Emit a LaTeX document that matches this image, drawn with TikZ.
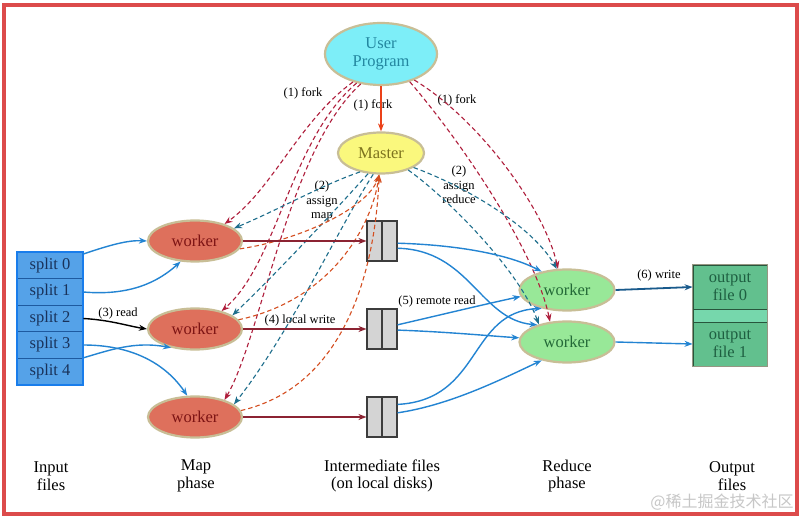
\documentclass[tikz,border=0pt]{standalone}
\usepackage{fontspec}
\setmainfont{Liberation Serif}
\newfontfamily\cjkfont{Noto Sans CJK SC}
\usetikzlibrary{shapes.geometric,arrows.meta}
\definecolor{framered}{RGB}{220,75,75}
\definecolor{rim}{RGB}{200,190,150}
\definecolor{upfill}{RGB}{125,238,248}
\definecolor{uptext}{RGB}{35,135,160}
\definecolor{msfill}{RGB}{250,248,125}
\definecolor{mstext}{RGB}{125,115,30}
\definecolor{mapfill}{RGB}{222,112,92}
\definecolor{maptext}{RGB}{125,20,20}
\definecolor{redfill}{RGB}{152,232,152}
\definecolor{redtext}{RGB}{35,105,55}
\definecolor{filefill}{RGB}{212,212,212}
\definecolor{filedraw}{RGB}{60,60,60}
\definecolor{splitfill}{RGB}{85,162,232}
\definecolor{splitline}{RGB}{30,90,160}
\definecolor{splitrim}{RGB}{25,125,235}
\definecolor{splittext}{RGB}{25,50,90}
\definecolor{outfill}{RGB}{98,192,142}
\definecolor{outstrip}{RGB}{118,215,172}
\definecolor{outline}{RGB}{40,85,60}
\definecolor{outtext}{RGB}{30,95,65}
\definecolor{outrim}{RGB}{150,150,130}
\definecolor{forkc}{RGB}{175,30,60}
\definecolor{assignc}{RGB}{30,110,140}
\definecolor{reportc}{RGB}{212,78,32}
\definecolor{writec}{RGB}{140,35,50}
\definecolor{bluec}{RGB}{35,132,210}
\definecolor{mainc}{RGB}{235,65,25}
\definecolor{outarrow}{RGB}{25,90,140}
\begin{document}
\begin{tikzpicture}[x=1pt,y=-1pt,
  big/.style={font=\fontsize{16.5}{17.5}\selectfont},
  small/.style={font=\fontsize{12.5}{14.5}\selectfont},
  ell/.style={ellipse,inner sep=0pt,line width=2.2pt,draw=rim,big,align=center},
  upnode/.style={ell,fill=upfill,text=uptext,minimum width=112,minimum height=62},
  msnode/.style={ell,fill=msfill,text=mstext,minimum width=86,minimum height=41},
  mapnode/.style={ell,fill=mapfill,text=maptext,minimum width=94,minimum height=41},
  rednode/.style={ell,fill=redfill,text=redtext,minimum width=95,minimum height=41},
  filenode/.style={rectangle,inner sep=0pt,fill=filefill,draw=filedraw,line width=1.1pt,minimum width=30,minimum height=40},
  splitnode/.style={rectangle,inner sep=0pt,fill=splitfill,draw=splitline,line width=0.9pt,minimum width=66,minimum height=26.5,big,text=splittext},
  outnode/.style={rectangle,inner sep=0pt,fill=outfill,draw=outline,line width=0.9pt,minimum width=74,minimum height=44,big,text=outtext,align=center},
  lab/.style={small,align=center,inner sep=0pt},
  phase/.style={big,align=center,inner sep=0pt},
  tip/.style={-{Stealth[length=8pt,width=6pt]}},
  forkln/.style={tip,draw=forkc,dashed,dash pattern=on 4.5pt off 3pt,line width=1.1pt},
  assignln/.style={tip,draw=assignc,dashed,dash pattern=on 4.5pt off 3pt,line width=1.1pt},
  reportln/.style={tip,draw=reportc,dashed,dash pattern=on 4.5pt off 3pt,line width=1.1pt},
  writeln/.style={tip,draw=writec,line width=1.4pt},
  blueln/.style={tip,draw=bluec,line width=1.4pt},
]
\useasboundingbox (0,0) rectangle (803,518);
\fill[white] (0,0) rectangle (803,518);
\draw[framered,line width=3.5pt] (4,5) rectangle (797,514);

% labels (drawn first, lines pass over them)
\node[lab] (lf1) at (303,93) {(1) fork};
\node[lab] (lf2) at (373,105) {(1) fork};
\node[lab] (lf3) at (457,100) {(1) fork};
\node[lab] (lam) at (322,201) {(2)\\assign\\map};
\node[lab] (lar) at (459,185) {(2)\\assign\\reduce};
\node[lab] (lrd) at (118,313) {(3) read};
\node[lab] (llw) at (300,320) {(4) local write};
\node[lab] (lrr) at (437,301) {(5) remote read};
\node[lab] (lwr) at (659,275) {(6) write};

% nodes
\node[upnode] (up) at (381,54) {User\\Program};
\node[msnode] (ms) at (381,153) {Master};
\node[mapnode] (m1) at (195,241) {worker};
\node[mapnode] (m2) at (195,329) {worker};
\node[mapnode] (m3) at (195,417) {worker};
\node[filenode] (f1) at (382,241) {};
\node[filenode] (f2) at (382,329) {};
\node[filenode] (f3) at (382,417) {};
\foreach \f in {f1,f2,f3} \draw[filedraw,line width=1.1pt] (\f.north) -- (\f.south);
\node[rednode] (r1) at (567,290) {worker};
\node[rednode] (r2) at (567,342) {worker};
\node[splitnode] (s0) at (50,265.5) {split 0};
\node[splitnode] (s1) at (50,292) {split 1};
\node[splitnode] (s2) at (50,318.5) {split 2};
\node[splitnode] (s3) at (50,345) {split 3};
\node[splitnode] (s4) at (50,371.5) {split 4};
\draw[splitrim,line width=2pt] (s0.north west) rectangle (s4.south east);
\node[outnode] (o0) at (730,287) {output\\file 0};
\node[rectangle,inner sep=0pt,fill=outstrip,draw=outline,line width=0.9pt,minimum width=74,minimum height=13] (os) at (730,315.5) {};
\node[outnode] (o1) at (730,344) {output\\file 1};
\draw[outrim,line width=1.5pt] (o0.north west) rectangle (o1.south east);

% bottom captions
\node[phase] (c1) at (51,476) {Input\\files};
\node[phase] (c2) at (196,476) {Map\\phase};
\node[phase] (c3) at (382,476) {Intermediate files\\(on local disks)};
\node[phase] (c4) at (567,476) {Reduce\\phase};
\node[phase] (c5) at (732,476) {Output\\files};
\node[inner sep=0pt,text=black!22,font=\cjkfont\fontsize{16}{16}\selectfont] (wm) at (722,502) {@稀土掘金技术社区};

% (1) fork
\draw[tip,draw=mainc,line width=2.4pt] (up.south) -- (ms.north);
\draw[forkln] (up.225) .. controls (300,120) and (272,190) .. (m1.30);
\draw[forkln] (up.230) .. controls (290,140) and (278,262) .. (m2.34);
\draw[forkln] (up.236) .. controls (288,150) and (262,335) .. (m3.30);
\draw[forkln] (up.322) .. controls (480,120) and (545,210) .. (r1.113);
\draw[forkln] (up.316) .. controls (460,140) and (535,250) .. (r2.130);

% (2) assign
\draw[assignln] (ms.222) .. controls (322,185) and (282,208) .. (m1.18);
\draw[assignln] (ms.238) .. controls (340,205) and (280,270) .. (m2.20);
\draw[assignln] (ms.250) .. controls (340,225) and (292,330) .. (m3.18);
\draw[assignln] (ms.336) .. controls (462,185) and (532,225) .. (r1.116);
\draw[assignln] (ms.328) .. controls (450,200) and (520,272) .. (r2.148);

% reports back to master
\draw[reportln] (m1.350) .. controls (300,240) and (368,208) .. (ms.265);
\draw[reportln] (m2.12) .. controls (332,300) and (372,225) .. (ms.265);
\draw[reportln] (m3.8) .. controls (352,385) and (376,255) .. (ms.265);

% (3) read
\draw[blueln] (s0.19) .. controls (110,245) and (128,240) .. (m1.west);
\draw[blueln] (s1.east) .. controls (130,296) and (158,282) .. (m1.235);
\draw[tip,draw=black,line width=1.4pt] (s2.east) .. controls (110,320) and (128,326) .. (m2.west);
\draw[blueln] (s3.east) .. controls (140,345) and (170,370) .. (m3.110);
\draw[blueln] (s4.north east) .. controls (110,350) and (135,341) .. (m2.218);

% (4) local write
\draw[writeln] (m1.east) -- (f1.west);
\draw[writeln] (m2.east) -- (f2.west);
\draw[writeln] (m3.east) -- (f3.west);

% (5) remote read
\draw[blueln] (f1.-8) .. controls (460,245) and (510,255) .. (r1.144);
\draw[blueln] (f1.-25) .. controls (470,250) and (480,320) .. (r2.150);
\draw[blueln] (f2.15) .. controls (440,315) and (490,303) .. (r1.188);
\draw[blueln] (f2.-4) .. controls (450,332) and (490,336) .. (r2.175);
\draw[blueln] (f3.39) .. controls (482,400) and (468,312) .. (r1.216);
\draw[blueln] (f3.15) .. controls (450,405) and (500,380) .. (r2.216);

% (6) write
\draw[tip,draw=outarrow,line width=1.8pt] (r1.east) -- (o0.west);
\draw[blueln] (r2.east) -- (o1.west);
\end{tikzpicture}
\end{document}
